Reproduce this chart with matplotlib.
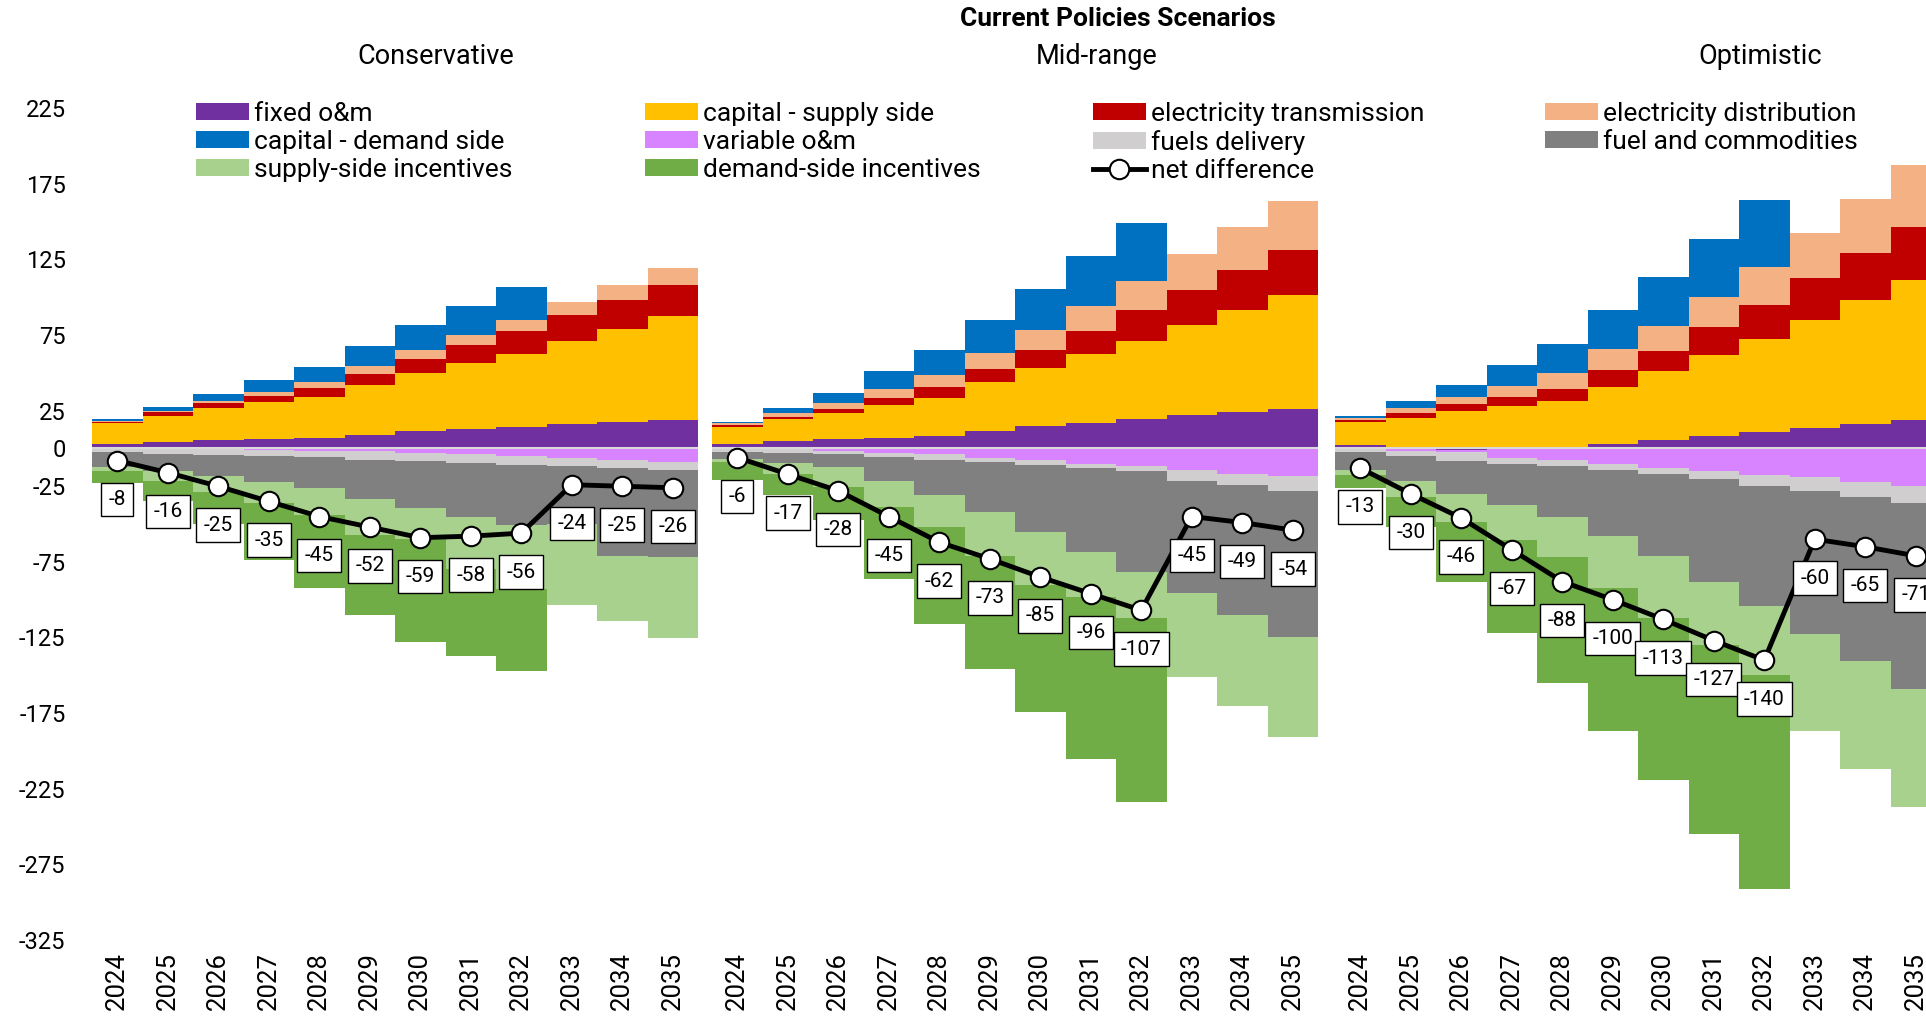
import numpy as np
import matplotlib.pyplot as plt
from matplotlib.patches import Patch
from matplotlib.lines import Line2D

plt.rcParams['font.family'] = ['Roboto', 'DejaVu Sans']
plt.rcParams['axes.unicode_minus'] = False

years = ['2024', '2025', '2026', '2027', '2028', '2029',
         '2030', '2031', '2032', '2033', '2034', '2035']

series_names = ['fixed o&m', 'capital - supply side', 'electricity transmission',
                'electricity distribution', 'capital - demand side', 'variable o&m',
                'fuels delivery', 'fuel and commodities', 'supply-side incentives',
                'demand-side incentives']
colors = ['#7030A0', '#FFC000', '#C00000', '#F4B183', '#0070C0', '#D883FF',
          '#D0CECE', '#808080', '#A9D18E', '#70AD47']

# Conservative
cons_fixed_om = [2.7, 4.0, 5.3, 6.2, 6.6, 9.1, 11.3, 13.1, 14.4, 15.9, 17.5, 18.8]
cons_cap_supply = [13.9, 17.5, 21.2, 24.3, 27.7, 32.9, 38.5, 43.3, 48.2, 55.3, 61.7, 69.0]
cons_transmission = [1.1, 2.4, 3.4, 4.0, 5.5, 7.3, 9.3, 12.2, 15.3, 16.9, 18.8, 20.4]
cons_distribution = [0.7, 0.9, 1.7, 3.1, 4.0, 4.9, 6.2, 6.6, 7.3, 8.6, 10.0, 11.3]
cons_cap_demand = [0.8, 2.6, 4.5, 7.5, 10.2, 13.5, 16.1, 18.8, 21.4, 0, 0, 0]
cons_variable_om = [0, 0, -0.5, -1.0, -1.5, -2.0, -3.0, -4.0, -5.0, -6.0, -7.5, -9.0]
cons_fuels_delivery = [-2.6, -3.7, -3.8, -4.2, -4.4, -5.4, -5.5, -5.5, -5.8, -5.7, -5.5, -5.5]
cons_fuel_commod = [-9.8, -11.5, -14.1, -16.8, -20.1, -26.0, -31.0, -36.1, -40.0, -38.3, -58.0, -57.1]
cons_supply_inc = [-2.8, -6.5, -10.2, -14.0, -18.0, -23.6, -20.5, -34.4, -42.2, -53.5, -43.0, -53.4]
cons_demand_inc = [-7.8, -13.3, -21.4, -38.0, -48.0, -53.0, -68.0, -57.0, -54.0, 0, 0, 0]
cons_net = [-8, -16, -25, -35, -45, -52, -59, -58, -56, -24, -25, -26]

# Mid-range
mid_fixed_om = [3.1, 4.6, 6.0, 7.1, 8.2, 11.3, 14.6, 17.0, 19.2, 21.9, 24.1, 26.3]
mid_cap_supply = [11.3, 14.6, 17.7, 21.4, 25.4, 32.3, 38.3, 45.4, 52.0, 59.7, 67.7, 75.2]
mid_transmission = [0.9, 1.8, 2.6, 4.7, 6.7, 8.8, 12.1, 15.5, 20.0, 23.3, 26.3, 29.9]
mid_distribution = [1.3, 2.7, 3.6, 6.0, 8.2, 10.7, 13.1, 16.6, 19.4, 23.9, 28.4, 32.3]
mid_cap_demand = [1.1, 3.3, 6.6, 11.7, 16.3, 22.1, 27.4, 32.7, 38.3, 0, 0, 0]
mid_variable_om = [0, -0.5, -1.5, -3.0, -4.0, -6.0, -7.5, -10.0, -11.5, -14.5, -16.7, -18.3]
mid_fuels_delivery = [-2.2, -2.2, -2.5, -2.6, -3.8, -2.9, -3.2, -2.9, -3.6, -6.7, -7.8, -9.6]
mid_fuel_commod = [-4.9, -6.8, -8.2, -15.6, -22.9, -33.4, -44.6, -55.8, -66.3, -74.2, -85.8, -96.9]
mid_supply_inc = [-1.9, -7.5, -13.4, -17.8, -21.2, -29.0, -35.0, -29.3, -30.6, -55.6, -59.7, -66.2]
mid_demand_inc = [-12.0, -14.0, -21.4, -47.0, -64.1, -74.7, -83.7, -107.0, -122.0, 0, 0, 0]
mid_net = [-6, -17, -28, -45, -62, -73, -85, -96, -107, -45, -49, -54]

# Optimistic
opt_fixed_om = [2.2, 0, -0.8, 0, 0, 2.7, 5.5, 8.2, 11.1, 13.5, 16.2, 18.8]
opt_cap_supply = [15.5, 20.4, 24.8, 28.3, 31.6, 38.2, 45.4, 53.3, 61.2, 71.7, 81.8, 92.3]
opt_transmission = [1.1, 3.3, 4.4, 6.0, 7.8, 11.1, 13.7, 18.6, 22.8, 27.2, 31.4, 35.4]
opt_distribution = [1.1, 2.8, 4.9, 7.3, 10.4, 13.7, 16.6, 20.1, 24.8, 29.9, 35.4, 41.1]
opt_cap_demand = [1.3, 4.9, 7.9, 13.7, 19.4, 26.1, 31.9, 38.5, 44.3, 0, 0, 0]
opt_variable_om = [-0.3, -1.5, -1.7, -6.0, -7.5, -10.4, -13.2, -14.8, -17.6, -19.2, -22.5, -24.7]
opt_fuels_delivery = [-2.2, -3.5, -5.7, -4.5, -4.1, -3.7, -3.6, -5.5, -7.1, -8.8, -9.9, -11.4]
opt_fuel_commod = [-11.6, -16.4, -22.0, -27.0, -34.0, -44.1, -54.2, -67.9, -79.8, -94.8, -108.1, -123.1]
opt_supply_inc = [-3.5, -11.0, -18.7, -22.9, -26.4, -34.4, -41.0, -41.8, -45.5, -64.2, -71.5, -77.8]
opt_demand_inc = [-8.4, -19.6, -39.1, -61.6, -83.0, -94.4, -107.0, -125.0, -141.0, 0, 0, 0]
opt_net = [-13, -30, -46, -67, -88, -100, -113, -127, -140, -60, -65, -71]

yticks = [225, 175, 125, 75, 25, 0, -25, -75, -125, -175, -225, -275, -325]


def draw_panel(ax, stacks, net, show_y):
    x = np.arange(len(years))
    pos_bottom = np.zeros(len(years))
    neg_bottom = np.zeros(len(years))
    for vals, color in zip(stacks, colors):
        vals = np.array(vals, dtype=float)
        pos = np.where(vals > 0, vals, 0)
        neg = np.where(vals < 0, vals, 0)
        ax.bar(x, pos, width=1.0, bottom=pos_bottom, color=color, linewidth=0)
        ax.bar(x, neg, width=1.0, bottom=neg_bottom, color=color, linewidth=0)
        pos_bottom += pos
        neg_bottom += neg
    ax.axhline(0, color='#D9D9D9', lw=1.5, zorder=3)

    ax.plot(x, net, color='black', lw=3.5, marker='o', ms=14,
            mfc='white', mec='black', mew=1.5, zorder=5)
    for xi, v in zip(x, net):
        ax.annotate(str(v), (xi, v), xytext=(0, -28), textcoords='offset points',
                    ha='center', va='center', fontsize=15, zorder=6,
                    bbox=dict(boxstyle='square,pad=0.35', fc='white', ec='black', lw=1))

    ax.set_xlim(-0.5, len(years) - 0.5)
    ax.set_ylim(-325, 235)
    ax.set_xticks(x)
    ax.set_xticklabels(years, rotation=90, fontsize=18.5)
    ax.set_yticks(yticks)
    ax.tick_params(axis='both', length=0)
    ax.tick_params(axis='x', pad=9)
    ax.tick_params(axis='y', pad=19, labelsize=17)
    if not show_y:
        ax.tick_params(axis='y', labelleft=False)
    for s in ax.spines.values():
        s.set_visible(False)


fig = plt.figure(figsize=(19.26, 10.17), dpi=100)
W, H = 1926.0, 1017.0

panels = [
    (92, [cons_fixed_om, cons_cap_supply, cons_transmission, cons_distribution, cons_cap_demand,
          cons_variable_om, cons_fuels_delivery, cons_fuel_commod, cons_supply_inc, cons_demand_inc],
     cons_net, True),
    (712, [mid_fixed_om, mid_cap_supply, mid_transmission, mid_distribution, mid_cap_demand,
           mid_variable_om, mid_fuels_delivery, mid_fuel_commod, mid_supply_inc, mid_demand_inc],
     mid_net, False),
    (1335, [opt_fixed_om, opt_cap_supply, opt_transmission, opt_distribution, opt_cap_demand,
            opt_variable_om, opt_fuels_delivery, opt_fuel_commod, opt_supply_inc, opt_demand_inc],
     opt_net, False),
]
for left, stacks, net, show_y in panels:
    ax = fig.add_axes([left / W, 77 / H, 606 / W, 847 / H])
    draw_panel(ax, stacks, net, show_y)

fig.text(1118 / W, 1 - 19.5 / H, 'Current Policies Scenarios', ha='center', va='center',
         fontsize=19, fontweight='bold')
fig.text(436 / W, 1 - 56 / H, 'Conservative', ha='center', va='center', fontsize=19.5)
fig.text(1097 / W, 1 - 56 / H, 'Mid-range', ha='center', va='center', fontsize=19.5)
fig.text(1760 / W, 1 - 56 / H, 'Optimistic', ha='center', va='center', fontsize=19.5)

# legend: four columns laid out like the original
handles = [Patch(facecolor=c, linewidth=0) for c in colors]
handles.append(Line2D([], [], color='black', lw=3.5, marker='o', ms=14,
                      mfc='white', mec='black', mew=1.5))
labels = series_names + ['net difference']
columns = [[0, 4, 8], [1, 5, 9], [2, 6, 10], [3, 7]]
col_x = [196, 645, 1093, 1545]
for cx, idx in zip(col_x, columns):
    fig.legend([handles[i] for i in idx], [labels[i] for i in idx],
               loc='upper left', bbox_to_anchor=(cx / W, 1 - 102 / H),
               frameon=False, fontsize=19, borderpad=0, borderaxespad=0,
               handlelength=2.0, handleheight=0.58, handletextpad=0.2,
               labelspacing=0.15)

plt.savefig('out.png', dpi=100)
